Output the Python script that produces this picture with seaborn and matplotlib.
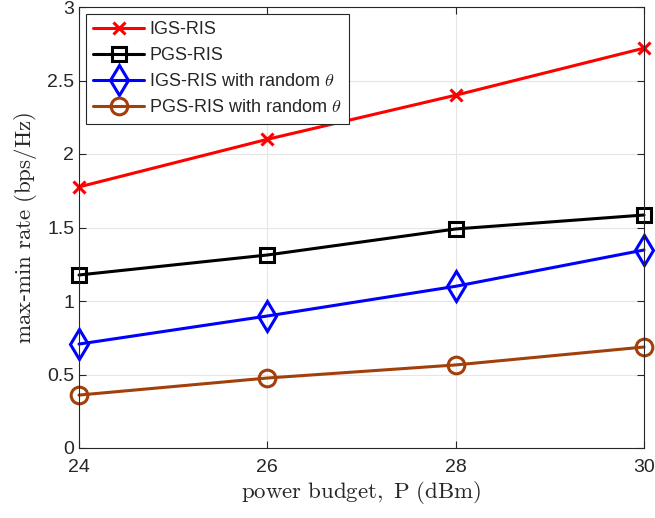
import matplotlib
matplotlib.use("Agg")
import matplotlib.pyplot as plt
import seaborn as sns
import pandas as pd

power = [24, 26, 28, 30]
igs_ris = [1.776, 2.10, 2.40, 2.72]
pgs_ris = [1.177, 1.313, 1.49, 1.585]
igs_rand = [0.707, 0.898, 1.10, 1.347]
pgs_rand = [0.36, 0.476, 0.565, 0.687]
labels = ["IGS-RIS", "PGS-RIS", r"IGS-RIS with random $\theta$", r"PGS-RIS with random $\theta$"]

sns.set_style("whitegrid")
plt.rcParams['font.family'] = ['Liberation Sans', 'DejaVu Sans']
plt.rcParams['mathtext.fontset'] = 'cm'

fig = plt.figure(figsize=(6.55, 5.18), dpi=100)
ax = fig.add_axes([79/655, 1-448/518, (644-79)/655, (448-7)/518])

series = [igs_ris, pgs_ris, igs_rand, pgs_rand]
colors = ["#ff0000", "#000000", "#0000ff", "#a2400c"]
markers = ["x", "s", "d", "o"]
msizes = [9, 10, 15, 12]
for vals, lab, c, m, ms in zip(series, labels, colors, markers, msizes):
    df = pd.DataFrame({"P": power, "rate": vals})
    sns.lineplot(data=df, x="P", y="rate", ax=ax, color=c, marker=m, markersize=ms,
                 linewidth=2.2, markerfacecolor="none" if m != "x" else c,
                 markeredgecolor=c, markeredgewidth=2.2, label=lab, clip_on=False)

ax.set_xlim(24, 30)
ax.set_ylim(0, 3)
ax.set_xticks([24, 26, 28, 30])
ax.set_yticks([0, 0.5, 1, 1.5, 2, 2.5, 3])
ax.set_yticklabels(["0", "0.5", "1", "1.5", "2", "2.5", "3"])
ax.tick_params(labelsize=14, colors="#262626", direction="in", length=5, width=0.8)
ax.tick_params(axis="x", pad=8)
ax.grid(True, color="#e6e6e6", linewidth=0.8)
for s in ax.spines.values():
    s.set_color("#262626")
    s.set_linewidth(0.8)
ax.tick_params(top=True, right=True, bottom=True, left=True)

ax.set_xlabel(r"$\mathrm{power\ budget,\ P\ (dBm)}$", fontsize=16.5, color="#262626", labelpad=2)
ax.set_ylabel(r"$\mathrm{max}$-$\mathrm{min\ rate\ (bps/Hz)}$", fontsize=16.5, color="#262626", labelpad=6)

leg = ax.legend(loc="upper left", fontsize=13, frameon=True, fancybox=False,
                edgecolor="#262626", framealpha=1, borderpad=0.4, labelspacing=0.5,
                handlelength=2.8, handletextpad=0.3, bbox_to_anchor=(0.0125, 0.984),
                borderaxespad=0)
leg.get_frame().set_linewidth(0.8)

fig.savefig("out.png", dpi=100)
